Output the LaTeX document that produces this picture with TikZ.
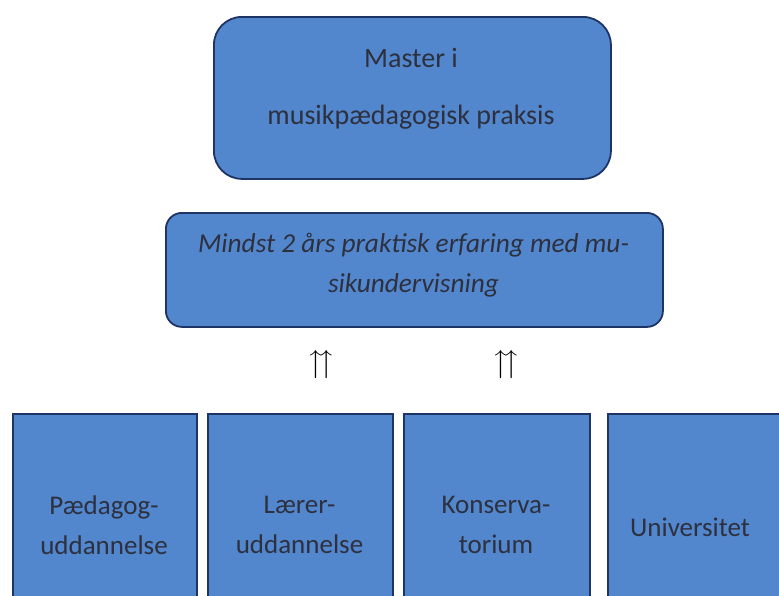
\documentclass[tikz,border=0pt]{standalone}
\usepackage{fontspec}
\usepackage{amssymb}
\setmainfont{Carlito}
\definecolor{boxfill}{RGB}{82,134,205}
\definecolor{boxline}{RGB}{30,52,100}
\definecolor{txt}{RGB}{45,48,62}
\begin{document}
\begin{tikzpicture}[x=1pt,y=-1pt,
  box/.style={draw=boxline,line width=1.8pt,fill=boxfill,inner sep=0pt,anchor=north west},
  lbl/.style={text=txt,font=\fontsize{27}{40}\selectfont,align=center},
  arr/.style={font=\fontsize{32}{32}\selectfont}]
\useasboundingbox (0,0) rectangle (779,595);
\clip (0,0) rectangle (779,595);
% top box
\node[box,rounded corners=28pt,minimum width=397pt,minimum height=162pt] (master) at (213,16) {};
\node[lbl,font=\fontsize{28}{40}\selectfont] (mastera) at (411,58) {Master i};
\node[lbl,font=\fontsize{28}{40}\selectfont] (masterb) at (411,117) {musikpædagogisk praksis};
% middle box
\node[box,rounded corners=16pt,minimum width=497pt,minimum height=114pt] (erf) at (165,212) {};
\node[lbl,font=\fontsize{27.3}{40}\selectfont\itshape] (erft) at (413.5,265) {Mindst 2 års praktisk erfaring med mu-\\sikundervisning};
% arrows
\node[arr] (a1) at (321,365) {$\upuparrows$};
\node[arr] (a2) at (506,365) {$\upuparrows$};
% bottom boxes
\node[box,minimum width=184pt,minimum height=200pt] (b1) at (12,413) {};
\node[box,minimum width=185pt,minimum height=200pt] (b2) at (207,413) {};
\node[box,minimum width=186pt,minimum height=200pt] (b3) at (403,413) {};
\node[box,minimum width=200pt,minimum height=200pt] (b4) at (607,413) {};
\node[lbl] (t1) at (104,525) {Pædagog-\\uddannelse};
\node[lbl] (t2) at (299.5,525) {Lærer-\\uddannelse};
\node[lbl] (t3) at (496,525) {Konserva-\\torium};
\node[lbl] (t4) at (690,527) {Universitet};
\end{tikzpicture}
\end{document}
